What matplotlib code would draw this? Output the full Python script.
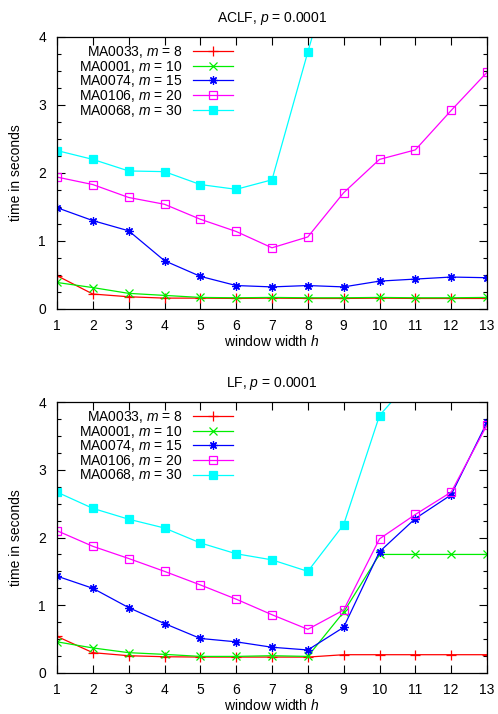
import numpy as np
import matplotlib
matplotlib.use("Agg")
import matplotlib.pyplot as plt
from matplotlib.ticker import MultipleLocator

plt.rcParams["font.family"] = ["Liberation Sans", "DejaVu Sans"]
plt.rcParams["mathtext.fontset"] = "custom"
plt.rcParams["mathtext.rm"] = "Liberation Sans"
plt.rcParams["mathtext.it"] = "Liberation Sans:italic"
plt.rcParams["font.size"] = 10

# --- data ---
h = np.arange(1, 14)
nan = np.nan

labels = ["MA0033, $m$ = 8", "MA0001, $m$ = 10", "MA0074, $m$ = 15",
          "MA0106, $m$ = 20", "MA0068, $m$ = 30"]

aclf_ma0033 = [0.49, 0.22, 0.18, 0.16, 0.16, 0.155, 0.16, 0.155, 0.155, 0.16, 0.155, 0.155, 0.155]
aclf_ma0001 = [0.39, 0.315, 0.23, 0.20, 0.17, 0.165, 0.17, 0.165, 0.165, 0.17, 0.165, 0.165, 0.17]
aclf_ma0074 = [1.49, 1.30, 1.15, 0.71, 0.48, 0.345, 0.325, 0.345, 0.325, 0.41, 0.44, 0.47, 0.46]
aclf_ma0106 = [1.94, 1.83, 1.64, 1.54, 1.32, 1.14, 0.90, 1.06, 1.71, 2.20, 2.34, 2.92, 3.48]
aclf_ma0068 = [2.33, 2.20, 2.03, 2.02, 1.83, 1.76, 1.90, 3.78, 5.6, nan, nan, nan, nan]

lf_ma0033 = [0.54, 0.30, 0.255, 0.24, 0.235, 0.235, 0.235, 0.235, 0.27, 0.27, 0.27, 0.27, 0.27]
lf_ma0001 = [0.46, 0.37, 0.30, 0.275, 0.245, 0.245, 0.255, 0.245, 0.90, 1.75, 1.75, 1.75, 1.75]
lf_ma0074 = [1.43, 1.25, 0.965, 0.73, 0.51, 0.46, 0.38, 0.34, 0.675, 1.79, 2.28, 2.63, 3.70]
lf_ma0106 = [2.10, 1.87, 1.69, 1.50, 1.30, 1.09, 0.86, 0.645, 0.93, 1.98, 2.34, 2.67, 3.66]
lf_ma0068 = [2.67, 2.43, 2.27, 2.14, 1.92, 1.76, 1.67, 1.50, 2.19, 3.80, 4.4, nan, nan]

colors = ["#ff0000", "#00ee00", "#0000ff", "#ff00ff", "#00ffff"]
markers = ["+", "x", (8, 2, 0), "s", "s"]
filled = [True, True, True, False, True]
msizes = [7, 6, 6, 6, 6]


def draw_panel(ax, series, title):
    for y, lab, c, m, f, ms in zip(series, labels, colors, markers, filled, msizes):
        ax.plot(h, y, color=c, lw=0.9, marker=m, ms=ms, mew=0.9,
                mfc=c if f else "none", mec=c, label=lab)
    ax.set_xlim(1, 13)
    ax.set_ylim(0, 4)
    ax.xaxis.set_major_locator(MultipleLocator(1))
    ax.yaxis.set_major_locator(MultipleLocator(1))
    ax.yaxis.set_minor_locator(MultipleLocator(0.25))
    ax.tick_params(which="both", direction="in", top=True, right=True, width=0.8)
    ax.tick_params(which="major", length=6, pad=7)
    ax.tick_params(which="minor", length=3)
    ax.tick_params(axis="y", pad=8)
    for s in ax.spines.values():
        s.set_linewidth(0.9)
    ax.set_title(title, pad=11, fontsize=10)
    ax.set_xlabel("window width $h$", labelpad=1)
    ax.set_ylabel("time in seconds", labelpad=11)
    ax.legend(loc="upper right", bbox_to_anchor=(0.409, 0.974), frameon=False,
              markerfirst=False, numpoints=1, handlelength=2.9, handletextpad=0.72,
              labelspacing=-0.1, borderpad=0, borderaxespad=0, fontsize=10)


fig = plt.figure(figsize=(4.98, 7.14), dpi=100)
ax1 = fig.add_axes([57 / 498, 1 - 309 / 714, 430 / 498, 272 / 714])
ax2 = fig.add_axes([57 / 498, 1 - 673 / 714, 430 / 498, 271 / 714])

draw_panel(ax1, [aclf_ma0033, aclf_ma0001, aclf_ma0074, aclf_ma0106, aclf_ma0068],
           "ACLF, $p$ = 0.0001")
draw_panel(ax2, [lf_ma0033, lf_ma0001, lf_ma0074, lf_ma0106, lf_ma0068],
           "LF, $p$ = 0.0001")

fig.savefig("out.png", dpi=100)
